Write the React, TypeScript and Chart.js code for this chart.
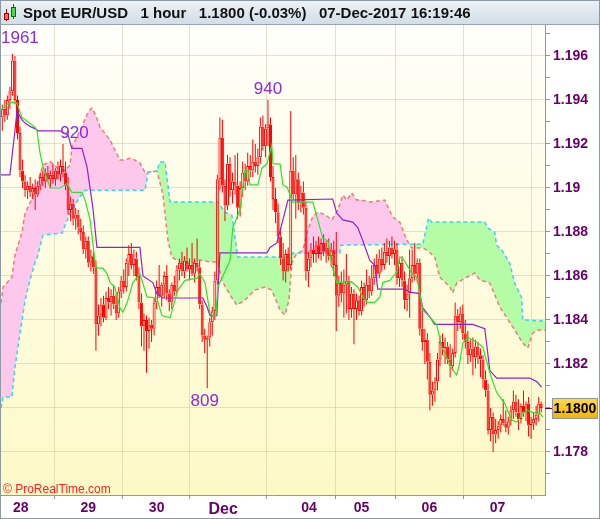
import React, { useEffect, useRef } from 'react';
import { Chart, registerables } from 'chart.js';

Chart.register(...registerables);

const FONT = '"Liberation Sans", Arial, Helvetica, sans-serif';
const BASE = 1.17;
const PIP = 0.0001;

// Hourly candles, values in pips above 1.1700
const OPEN = [232,236,233,240,244,258,240,225,208,203,199,201,198,200,197,201,205,203,207,204,206,204,208,206,210,207,201,190,193,186,188,182,180,172,176,166,169,164,138,142,147,141,150,148,151,147,143,153,158,155,166,170,165,168,160,148,137,140,135,138,136,148,155,151,156,160,152,148,156,153,163,166,162,167,163,165,161,166,164,147,133,131,132,139,144,158,204,223,201,192,211,199,203,201,191,200,207,203,210,208,212,210,214,228,219,227,229,205,195,189,178,168,162,170,165,208,197,204,193,198,191,162,168,172,170,174,170,175,171,173,169,172,165,151,157,152,156,158,145,152,145,149,144,155,149,156,153,159,165,161,168,165,171,169,173,170,172,159,166,158,149,152,159,165,161,166,136,130,131,121,106,108,112,122,130,127,128,122,119,125,142,139,143,134,130,124,127,123,128,124,122,113,108,90,96,88,90,92,95,93,91,94,99,103,98,95,101,98,102,92,93,95,97,102];
const HIGH = [238,240,242,246,261,260,242,228,213,206,203,205,202,204,203,207,208,209,210,208,211,209,212,213,220,212,205,196,195,191,190,186,183,178,178,172,171,167,147,150,151,153,155,154,156,152,155,160,163,168,174,175,172,171,164,152,143,142,141,140,150,158,165,157,162,165,154,157,160,165,168,171,169,173,168,175,168,177,167,149,136,133,141,146,162,206,232,231,204,215,214,207,215,216,203,212,211,216,215,222,220,218,232,233,229,240,232,210,200,193,182,175,172,173,235,214,215,207,201,203,194,171,175,178,176,178,177,179,176,177,175,176,180,160,162,163,170,160,155,154,152,151,158,157,163,160,165,168,170,172,173,175,177,176,178,176,175,168,169,162,156,172,172,175,168,168,146,136,134,125,112,114,125,133,134,132,130,129,127,148,145,146,147,140,135,131,132,131,130,127,124,117,111,100,98,95,94,97,104,99,96,101,108,106,104,102,108,103,105,96,98,101,105,103];
const LOW = [226,230,231,236,242,238,222,205,200,196,195,196,195,190,196,199,201,200,203,200,202,201,204,203,205,199,188,185,183,181,179,176,170,168,164,162,161,126,133,137,139,140,145,142,145,140,141,150,152,153,160,163,160,158,145,128,126,116,127,130,133,145,150,146,150,149,144,145,151,152,158,160,159,162,158,160,157,162,145,130,125,109,128,133,140,156,199,198,185,190,196,193,197,186,187,196,199,201,205,205,207,206,211,217,214,219,203,190,184,175,165,158,157,162,163,195,186,190,189,188,158,155,164,166,166,168,167,169,166,167,164,160,135,146,148,141,143,140,141,129,140,142,142,146,147,150,151,156,158,159,162,163,166,165,168,165,156,155,155,145,144,141,157,158,157,133,126,120,113,99,101,103,108,119,124,120,120,114,117,123,135,136,131,127,120,121,115,118,120,114,109,105,88,85,80,84,86,89,92,89,88,92,95,96,90,93,96,94,87,86,90,92,94,98];
const CLOSE = [236,233,240,244,258,240,225,208,203,199,201,198,200,197,201,205,203,207,204,206,204,208,206,210,207,201,190,193,186,188,182,180,172,176,166,169,164,138,142,147,141,150,148,151,147,143,153,158,155,166,170,165,168,160,148,137,140,135,138,136,148,155,151,156,160,152,148,156,153,163,166,162,167,163,165,161,166,164,147,133,131,132,139,144,158,204,223,201,192,211,199,203,201,191,200,207,203,210,208,212,210,214,228,219,227,229,205,195,189,178,168,162,170,165,208,197,204,193,198,191,162,168,172,170,174,170,175,171,173,169,172,165,151,157,152,156,158,145,152,145,149,144,155,149,156,153,159,165,161,168,165,171,169,173,170,172,159,166,158,149,152,159,165,161,166,136,130,131,121,106,108,112,122,130,127,128,122,119,125,142,139,143,134,130,124,127,123,128,124,122,113,108,90,96,88,90,92,95,93,91,94,99,103,98,95,101,98,102,92,93,95,97,102,100];

// Conversion line (green)
const TENKAN_X = [-0.5,1.9,3.8,5.8,7.8,12.9,13.7,14.9,16.1,18.9,22.8,25.6,27.5,31.5,32.7,34.7,36.6,37.4,39.8,41.4,42.6,44.5,46.5,47.7,49.3,51.6,54.4,57.2,61.1,63.1,66.3,69.4,72.2,77.0,78.1,80.1,82.1,83.2,84.4,85.2,90.0,91.1,93.9,95.9,97.1,97.9,101.0,102.6,104.6,106.5,107.0,109.8,110.9,112.5,114.8,122.7,124.7,126.7,128.7,130.2,132.2,138.1,140.5,142.5,144.1,147.2,149.2,150.4,153.2,156.0,157.1,158.3,161.8,163.8,166.2,169.0,171.7,173.7,174.9,177.6,179.6,180.8,182.0,184.0,187.5,189.9,192.7,195.4,198.6,201.3,203.3,205.3,207.3,209.6,212.4,213.6];
const TENKAN_Y = [235.5,238,239,238.6,232,227.7,226,216,209.5,200,200,202,198,198,194.5,185.5,167,163.6,163.6,161,157,155,145.5,143.6,147.7,157,161,150.5,150,142,141,153.6,158,159,161,157,143,142,142,155,167,182,190,208,208,201.4,201.4,209,211,219.5,211,211,201.4,200.5,193.6,193.6,185.5,177,176,165,157,157.3,155,150.5,148,148,150.5,157,158,162,168.6,168,161.4,159.5,144.5,141.4,137.7,127.7,125,118,115,120.5,129.5,132,130,127.7,116,107,102,94.5,93.6,96.8,99,98,97.7,96];

// Base line (purple)
const KIJUN_X = [-0.5,3.0,5.0,5.8,7.8,9.0,11.0,12.9,14.1,22.8,26.0,27.5,31.5,33.5,35.8,37.4,54.4,55.6,59.5,61.1,63.5,79.3,80.9,82.1,84.8,86.0,104.6,105.8,108.5,110.9,112.9,130.6,132.2,134.6,138.5,140.5,142.5,145.3,147.2,148.4,159.1,161.1,165.0,166.2,169.0,170.9,185.9,190.7,192.7,195.4,208.5,211.2,213.2];
const KIJUN_Y = [206,206,226,235,231,229.5,228,227,226,226,224,218,218,209.5,191,173,173,160,157,152,150,150,146,142,142,170.5,170.5,173,175,185.5,194.5,195,188.6,185.5,184.5,182,176,167,165,154,154,152.7,152,145.5,141.4,138,138,136,117,113.6,113.6,112,109.5];

// Cloud, leading span A (red dashed)
const SPAN_A_X = [-0.5,0.3,1.9,3.8,5.0,7.8,9.0,12.1,16.1,18.9,22.0,24.8,26.8,27.5,30.7,33.9,35.4,37.0,38.6,42.6,46.5,48.5,50.5,52.4,54.4,56.4,61.1,63.5,65.5,67.0,70.2,74.2,78.1,82.1,85.2,86.8,90.0,92.7,95.9,99.8,103.8,106.5,109.8,111.7,113.3,114.4,116.0,118.8,120.8,122.7,124.7,127.5,130.2,132.6,134.6,136.2,138.1,140.1,142.0,145.3,151.2,152.4,154.3,157.1,159.1,160.3,161.8,166.2,167.8,170.9,172.9,176.9,178.0,179.6,183.6,186.7,188.7,192.7,196.6,203.3,205.7,207.7,209.6,211.6,214.6];
const SPAN_A_Y = [147.7,155,157,159.5,169.5,180,188.6,196,210.5,212,209,208,210.5,218.6,226,234.5,236.4,233,227.7,221.8,212.7,212.7,213.6,212.7,211.4,207,207.7,197,176,168.6,166.4,165.5,167.3,166.4,166.4,158,151.4,146.8,149,153.6,155,153.6,144.5,142.3,149,166,169.5,171.8,181,187,189,188,185.5,190,196.8,194.5,197.7,194.5,194.5,193.6,194.5,191.4,186.8,184.5,178.6,175.5,172.7,172.7,171.8,168.6,159.5,155,152.3,156.8,159.5,161.4,158.2,156.8,146,134,129.5,127.3,134,135.5,135.5];

// Cloud, leading span B (cyan dashed)
const SPAN_B_X = [-0.5,0.3,3.8,5.0,7.0,9.0,10.9,12.9,13.7,16.1,23.6,26.8,30.7,32.7,56.4,57.6,61.1,62.3,64.3,66.3,85.2,88.0,90.7,93.1,113.7,114.8,133.4,133.8,166.2,168.5,169.7,190.7,191.9,194.6,195.4,197.4,199.4,200.5,202.5,205.3,205.7,214.6];
const SPAN_B_Y = [100,105,105,118.6,134,149,158,166,168,178.6,179.5,188.6,196,199,199,207,207.7,211.8,211.8,193.6,193.6,189,187.7,168.6,168.6,170.5,170.5,174,174.5,186.4,184.5,184.5,181.8,180,174,171.8,168,166,156.8,150,140,139.5];

const X_TICK_POS = [7.3, 34.0, 61.0, 87.3, 121.2, 142.0, 168.8, 195.7];
const X_TICK_LABELS = ['28', '29', '30', 'Dec', '04', '05', '06', '07'];

const Y_TICK_VALUES = [1.177,1.178,1.179,1.18,1.181,1.182,1.183,1.184,1.185,1.186,1.187,1.188,1.189,1.19,1.191,1.192,1.193,1.194,1.195,1.196,1.197];
const Y_TICK_LABELS = ['','1.178','','','','1.182','','1.184','','1.186','','1.188','','1.19','','1.192','','1.194','','1.196',''];

const ANNOT_TEXT = ['1961', '920', '940', '809'];
const ANNOT_AT = [6.6, 28.5, 105, 80];
const ANNOT_PRICE = [1.1961, 1.192, 1.194, 1.1809];
const ANNOT_SIDE = ['above', 'above', 'above', 'below'];

const TITLE = 'Spot EUR/USD   1 hour   1.1800 (-0.03%)   07-Dec-2017 16:19:46';
const LAST_LABEL = '1.1800';
const COPYRIGHT = '\u00A9 ProRealTime.com';

const RED = '#ff0000';
const AXIS_TEXT = '#660066';
const GRID = 'rgba(195,190,150,0.45)';
const AXIS_LINE = '#8c9aa6';
const ANNOT_COLOR = '#8a2be2';

const px = (p: number) => +(BASE + p * PIP).toFixed(6);
const line = (xs: number[], ys: number[]) => xs.map((x, i) => ({ x, y: px(ys[i]) }));

const bgPlugin = {
  id: 'bg',
  beforeDraw(chart: any) {
    const { ctx, chartArea: a, width, height } = chart;
    ctx.save();
    ctx.fillStyle = '#ffffff';
    ctx.fillRect(0, 0, width, height);
    const g = ctx.createLinearGradient(0, a.top, 0, a.bottom);
    g.addColorStop(0, '#fffffb');
    g.addColorStop(1, '#fdf9c6');
    ctx.fillStyle = g;
    ctx.fillRect(a.left, a.top, a.right - a.left, a.bottom - a.top);
    ctx.restore();
  },
};

const overlayPlugin = {
  id: 'overlay',
  afterDraw(chart: any) {
    const { ctx, chartArea: a, width, height } = chart;
    const xs = chart.scales.x;
    const ys = chart.scales.y;
    ctx.save();
    // header
    const hg = ctx.createLinearGradient(0, 0, 0, 24);
    hg.addColorStop(0, '#eef3f7');
    hg.addColorStop(1, '#d2dde6');
    ctx.fillStyle = hg;
    ctx.fillRect(0, 0, width, 24);
    ctx.fillStyle = '#97a3ad';
    ctx.fillRect(0, 24, width, 1);
    // icon
    ctx.fillStyle = '#a00000';
    ctx.fillRect(6, 9, 1, 12);
    ctx.fillStyle = '#f06a6a';
    ctx.fillRect(4, 13, 5, 7);
    ctx.strokeStyle = '#a00000';
    ctx.strokeRect(4.5, 13.5, 4, 6);
    ctx.fillStyle = '#007000';
    ctx.fillRect(13, 4, 1, 15);
    ctx.fillStyle = '#44e044';
    ctx.fillRect(11, 7, 5, 10);
    ctx.strokeStyle = '#007000';
    ctx.strokeRect(11.5, 7.5, 4, 9);
    ctx.font = `bold 15px ${FONT}`;
    ctx.fillStyle = '#111111';
    ctx.textAlign = 'left';
    ctx.textBaseline = 'alphabetic';
    ctx.fillText(TITLE, 23, 18);
    // annotations (last digits of swing highs / lows)
    ctx.font = `17px ${FONT}`;
    ctx.fillStyle = ANNOT_COLOR;
    ctx.textAlign = 'center';
    ctx.textBaseline = 'alphabetic';
    ANNOT_TEXT.forEach((t, k) => {
      const w = ctx.measureText(t).width;
      let x = xs.getPixelForValue(ANNOT_AT[k]);
      x = Math.max(a.left + w / 2, Math.min(a.right - w / 2, x));
      const yv = ys.getPixelForValue(ANNOT_PRICE[k]);
      const y = ANNOT_SIDE[k] === 'above' ? Math.max(a.top + 18, yv - 6) : yv + 18;
      ctx.fillText(t, x, k === 0 ? a.top + 18 : y);
    });
    // copyright
    ctx.font = `12px ${FONT}`;
    ctx.fillStyle = '#ff2222';
    ctx.textAlign = 'left';
    ctx.fillText(COPYRIGHT, 3, a.bottom - 2);
    // last price box
    const last = px(CLOSE[CLOSE.length - 1]);
    const py = Math.round(ys.getPixelForValue(last)) + 0.5;
    ctx.strokeStyle = AXIS_TEXT;
    ctx.lineWidth = 1;
    ctx.beginPath();
    ctx.moveTo(a.right, py);
    ctx.lineTo(a.right + 7, py);
    ctx.stroke();
    const bx = a.right + 7.5;
    const bw = 45;
    const bh = 20;
    const gg = ctx.createLinearGradient(0, py - bh / 2, 0, py + bh / 2);
    gg.addColorStop(0, '#ffd84a');
    gg.addColorStop(1, '#f2b400');
    ctx.fillStyle = gg;
    ctx.fillRect(bx, py - bh / 2, bw, bh);
    ctx.strokeStyle = '#8c9aa6';
    ctx.strokeRect(bx, py - bh / 2, bw, bh);
    ctx.font = `bold 14px ${FONT}`;
    ctx.fillStyle = '#000000';
    ctx.textAlign = 'center';
    ctx.textBaseline = 'middle';
    ctx.fillText(LAST_LABEL, bx + bw / 2, py + 1);
    // outer border
    ctx.strokeStyle = AXIS_LINE;
    ctx.strokeRect(0.5, 0.5, width - 1, height - 1);
    ctx.restore();
  },
};

export default function App() {
  const ref = useRef<HTMLCanvasElement>(null);
  useEffect(() => {
    const bodies = OPEN.map((o, i) => ({ x: i, y: [px(o), px(CLOSE[i])] }));
    const upper = OPEN.map((o, i) => ({ x: i, y: [px(Math.max(o, CLOSE[i])), px(HIGH[i])] }));
    const lower = OPEN.map((o, i) => ({ x: i, y: [px(LOW[i]), px(Math.min(o, CLOSE[i]))] }));
    const bodyFill = OPEN.map((o, i) => (CLOSE[i] < o ? RED : 'rgba(0,0,0,0)'));

    const chart = new Chart(ref.current as HTMLCanvasElement, {
      type: 'bar',
      data: {
        datasets: [
          {
            type: 'line',
            data: line(SPAN_A_X, SPAN_A_Y),
            borderColor: '#f27a7a',
            borderWidth: 1.5,
            borderDash: [4, 3],
            pointRadius: 0,
            tension: 0,
            fill: { target: 1, above: '#fdc8ec', below: '#b4fca6' },
            order: 10,
          } as any,
          {
            type: 'line',
            data: line(SPAN_B_X, SPAN_B_Y),
            borderColor: '#38d4f0',
            borderWidth: 1.5,
            borderDash: [4, 3],
            pointRadius: 0,
            tension: 0,
            fill: false,
            order: 9,
          } as any,
          {
            type: 'bar',
            data: lower,
            backgroundColor: RED,
            borderWidth: 0,
            barThickness: 1,
            inflateAmount: 0,
            grouped: false,
            order: 5,
          } as any,
          {
            type: 'bar',
            data: upper,
            backgroundColor: RED,
            borderWidth: 0,
            barThickness: 1,
            inflateAmount: 0,
            grouped: false,
            order: 5,
          } as any,
          {
            type: 'bar',
            data: bodies,
            backgroundColor: bodyFill,
            borderColor: RED,
            borderWidth: 1,
            borderSkipped: false,
            barThickness: 3,
            inflateAmount: 0,
            minBarLength: 1,
            grouped: false,
            order: 4,
          } as any,
          {
            type: 'line',
            data: line(KIJUN_X, KIJUN_Y),
            borderColor: '#9222cc',
            borderWidth: 1.2,
            pointRadius: 0,
            tension: 0,
            fill: false,
            order: 1,
          } as any,
          {
            type: 'line',
            data: line(TENKAN_X, TENKAN_Y),
            borderColor: '#2ee22e',
            borderWidth: 1.2,
            pointRadius: 0,
            tension: 0,
            fill: false,
            order: 0,
          } as any,
        ],
      },
      options: {
        responsive: false,
        maintainAspectRatio: false,
        animation: false,
        devicePixelRatio: 1,
        events: [],
        layout: { padding: { top: 25, left: 1, right: 0, bottom: 0 } },
        plugins: {
          legend: { display: false },
          tooltip: { enabled: false },
          title: { display: false },
        },
        scales: {
          x: {
            type: 'linear',
            min: -0.514,
            max: 214.5,
            offset: false,
            afterBuildTicks: (s: any) => {
              s.ticks = X_TICK_POS.map((v) => ({ value: v }));
            },
            afterFit: (s: any) => {
              s.height = 24;
            },
            ticks: {
              autoSkip: false,
              maxRotation: 0,
              padding: 1,
              color: AXIS_TEXT,
              font: (c: any) => ({
                family: FONT,
                weight: 'bold',
                size: X_TICK_LABELS[c.index] === 'Dec' ? 16 : 14,
              }),
              callback: (_v: any, i: number) => X_TICK_LABELS[i],
            },
            grid: { color: GRID, tickColor: AXIS_LINE, tickLength: 4, drawTicks: true },
            border: { color: AXIS_LINE },
          },
          y: {
            type: 'linear',
            position: 'right',
            min: 1.176045,
            max: 1.197409,
            afterBuildTicks: (s: any) => {
              s.ticks = Y_TICK_VALUES.map((v) => ({ value: v }));
            },
            afterFit: (s: any) => {
              s.width = 55;
            },
            ticks: {
              autoSkip: false,
              padding: 3,
              color: AXIS_TEXT,
              font: { family: FONT, weight: 'bold', size: 14 },
              callback: (_v: any, i: number) => Y_TICK_LABELS[i],
            },
            grid: {
              color: (c: any) =>
                c.tick && Math.round(c.tick.value * 1000) % 2 === 0 ? GRID : 'rgba(0,0,0,0)',
              tickColor: AXIS_LINE,
              tickLength: 5,
            },
            border: { color: AXIS_LINE },
          },
        },
      } as any,
      plugins: [bgPlugin, overlayPlugin],
    });
    return () => chart.destroy();
  }, []);

  return (
    <div style={{ position: 'fixed', left: 0, top: 0, width: 600, height: 519 }}>
      <canvas ref={ref} width={600} height={519} style={{ display: 'block', width: 600, height: 519 }} />
    </div>
  );
}
